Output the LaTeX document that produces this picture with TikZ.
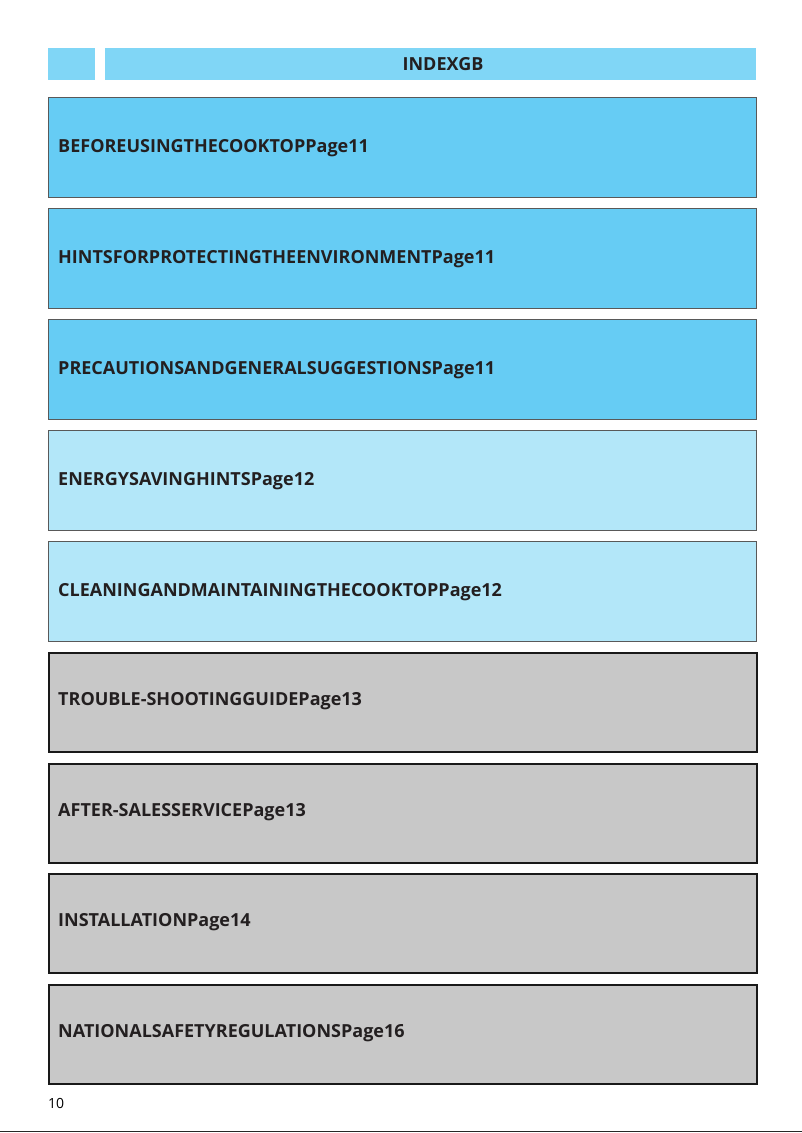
\documentclass[tikz,border=0pt]{standalone}
\usepackage{fontspec}
\setmainfont{Open Sans}
\definecolor{hdr}{HTML}{80D6F6}
\definecolor{dblue}{HTML}{66CCF4}
\definecolor{lblue}{HTML}{B3E7F9}
\definecolor{gry}{HTML}{C8C8C8}
\definecolor{txt}{HTML}{231F20}
\begin{document}
\begin{tikzpicture}[x=1pt,y=-1pt,
  entry/.style={draw=black!65,line width=1.2pt,minimum width=708pt,minimum height=100pt,anchor=north west,inner sep=0pt},
  lab/.style={anchor=west,font=\bfseries\fontsize{18}{20}\selectfont,text=txt,inner sep=0pt}]
\useasboundingbox (0,0) rectangle (802,1133);
\fill[white] (0,0) rectangle (802,1133);
\node[fill=hdr,minimum width=47pt,minimum height=32pt,anchor=north west,inner sep=0pt] (h1) at (48,48) {};
\node[fill=hdr,minimum width=651pt,minimum height=32pt,anchor=north west,inner sep=0pt] (h2) at (105,48) {};
\node[lab,anchor=center] (ht) at (443,64) {INDEXGB};
\foreach \y/\c/\t/\n [count=\i] in {
 97/dblue/BEFOREUSINGTHECOOKTOPPage11/a,
 208/dblue/HINTSFORPROTECTINGTHEENVIRONMENTPage11/b,
 319/dblue/PRECAUTIONSANDGENERALSUGGESTIONSPage11/c,
 430/lblue/ENERGYSAVINGHINTSPage12/d,
 541/lblue/CLEANINGANDMAINTAININGTHECOOKTOPPage12/e}{
 \node[entry,fill=\c] (\n) at (48,\y) {};
 \node[lab] (t\n) at (58,\y+51) {\t};
}
\foreach \y/\t/\n in {
 652/TROUBLE-SHOOTINGGUIDEPage13/f,
 763/AFTER-SALESSERVICEPage13/g,
 873/INSTALLATIONPage14/h,
 984/NATIONALSAFETYREGULATIONSPage16/i}{
 \node[entry,fill=gry,draw=black!90,line width=1.8pt,minimum height=99pt] (\n) at (48,\y) {};
 \node[lab] (t\n) at (58,\y+49) {\t};
}
\node[anchor=west,font=\fontsize{14}{16}\selectfont,inner sep=0pt] (pg) at (48,1103) {10};
\draw[line width=1.5pt,black!85] (0,1131.5) -- (802,1131.5);
\end{tikzpicture}
\end{document}
